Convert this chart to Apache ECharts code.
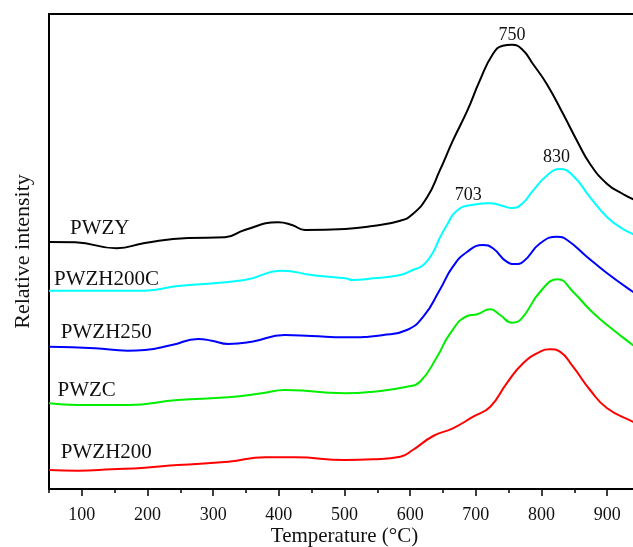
<!DOCTYPE html>
<html>
<head>
<meta charset="utf-8">
<script src="https://cdn.jsdelivr.net/npm/echarts@6/dist/echarts.min.js"></script>
<style>html,body{margin:0;padding:0;background:#fff;}#c{width:633px;height:547px;}</style>
</head>
<body>
<div id="c"></div>
<script>
var xTicks = [100, 200, 300, 400, 500, 600, 700, 800, 900];
var xMinorTicks = [50, 150, 250, 350, 450, 550, 650, 750, 850, 950];
var seriesNames = ['PWZY', 'PWZH200C', 'PWZH250', 'PWZC', 'PWZH200'];
var PWZY = [[50,247],[90,246.7],[153,240.7],[196,246],[262,251],[318,251.7],[348,259],[399,266.7],[420,264],[440,259],[501,260],[543,263],[585,268.3],[604,275],[626,292],[645,318.3],[665,348.3],[687,378.3],[706,408.3],[726,435],[741,443.3],[755,444.3],[770,440],[787,425],[808,405],[833,375],[854,348.3],[874,325],[900,305],[924,295],[939,290],[950,288]];
var PWZH200C = [[50,198.3],[196,198.3],[246,203],[348,209],[405,218.3],[450,214],[501,210.7],[513,209],[543,210.7],[585,214],[604,219],[620,224],[635,237],[645,251],[656,264],[671,278.3],[696,284.3],[722,285.7],[741,283],[755,281],[770,285],[787,298.3],[808,313.3],[828,320],[848,313.3],[874,291.7],[900,271.7],[924,260],[939,255],[950,252]];
var PWZH250 = [[50,142.3],[120,140.7],[170,138.3],[196,139],[237,144],[277,150],[298,148.3],[323,145],[359,147.3],[409,154],[450,153],[501,151.7],[559,154],[595,159],[620,172.3],[645,199],[665,222.3],[687,237.3],[711,244],[726,240.7],[747,227.3],[760,225],[772,227.3],[798,245.7],[824,252.3],[839,249],[869,232.3],[900,215.7],[939,197.3],[950,193]];
var PWZC = [[50,85.7],[94,84],[170,84],[246,89],[323,91.7],[374,95.7],[409,99],[440,98.3],[475,96.3],[501,95.7],[543,97.3],[595,102.3],[615,107.3],[641,132.3],[661,155.7],[687,173],[702,174.7],[722,179.7],[737,174],[755,166.3],[770,170.7],[798,197.3],[825,209.7],[848,197.3],[874,179],[900,164],[939,144],[950,139]];
var PWZH200 = [[50,19],[94,18.3],[146,19.7],[196,21.3],[246,24],[323,27.3],[379,31.7],[425,31.7],[501,29],[543,29.7],[585,32.3],[604,39],[635,53],[665,60.7],[696,72.3],[722,82.3],[747,105.7],[772,125.7],[798,137.3],[813,139.7],[828,137.3],[848,122.3],[874,99],[900,80.7],[939,67.3],[950,64]];
var peakLabels = ['750', '703', '830'];

var serif = '"Liberation Serif", "Times New Roman", serif';
var colors = ['#000000', '#00FFFF', '#0000FF', '#00EE00', '#FF0000'];
var datas = [PWZY, PWZH200C, PWZH250, PWZC, PWZH200];
var namePos = [[82, 261], [57.6, 210], [68, 156.5], [63, 98.5], [68, 36.5]];
var peakPos = [[0, 755, 453.3], [1, 688.5, 294], [1, 823, 331.7]];

var series = datas.map(function (d, i) {
  var mp = [{coord: namePos[i], value: seriesNames[i], label: {position: 'right', distance: 0}}];
  peakPos.forEach(function (p, k) {
    if (p[0] === i) mp.push({coord: [p[1], p[2]], value: peakLabels[k], label: {position: 'inside', fontSize: 18}});
  });
  return {
    name: seriesNames[i],
    type: 'line',
    data: d,
    smooth: 0.5,
    showSymbol: false,
    symbol: 'none',
    lineStyle: {color: colors[i], width: 2},
    silent: true,
    markPoint: {
      symbol: 'circle',
      symbolSize: 0,
      silent: true,
      label: {show: true, color: '#111', fontFamily: serif, fontSize: 21, formatter: '{c}'},
      data: mp
    }
  };
});

var chart = echarts.init(document.getElementById('c'), null, {renderer: 'canvas'});
chart.setOption({
  animation: false,
  backgroundColor: '#fff',
  grid: {left: 49, right: -7, top: 14, bottom: 58, show: true, borderColor: '#000', borderWidth: 2,
    backgroundColor: 'transparent', containLabel: false, outerBoundsMode: 'none'},
  xAxis: [{
    type: 'value', min: 50, max: 950, interval: 50,
    name: 'Temperature (°C)', nameLocation: 'middle', nameGap: 37, nameMoveOverlap: false,
    nameTextStyle: {fontFamily: serif, fontSize: 21, color: '#111'},
    axisLine: {show: true, lineStyle: {color: '#000', width: 2}},
    axisTick: {show: true, inside: false, length: 7, customValues: xTicks, lineStyle: {color: '#000', width: 1.5}},
    axisLabel: {fontFamily: serif, fontSize: 18, color: '#111', margin: 17, customValues: xTicks},
    splitLine: {show: false}
  }, {
    type: 'value', min: 50, max: 950, interval: 50, position: 'bottom', gridIndex: 0,
    axisLine: {show: false},
    axisTick: {show: true, inside: false, length: 4, customValues: xMinorTicks, lineStyle: {color: '#000', width: 1.5}},
    axisLabel: {show: false},
    splitLine: {show: false}
  }],
  yAxis: {
    type: 'value', min: 0, max: 475,
    name: 'Relative intensity', nameLocation: 'middle', nameGap: 15, nameMoveOverlap: false,
    nameTextStyle: {fontFamily: serif, fontSize: 22, color: '#111'},
    axisLine: {show: true, lineStyle: {color: '#000', width: 2}},
    axisTick: {show: false}, axisLabel: {show: false}, splitLine: {show: false}
  },
  series: series
});
</script>
</body>
</html>
